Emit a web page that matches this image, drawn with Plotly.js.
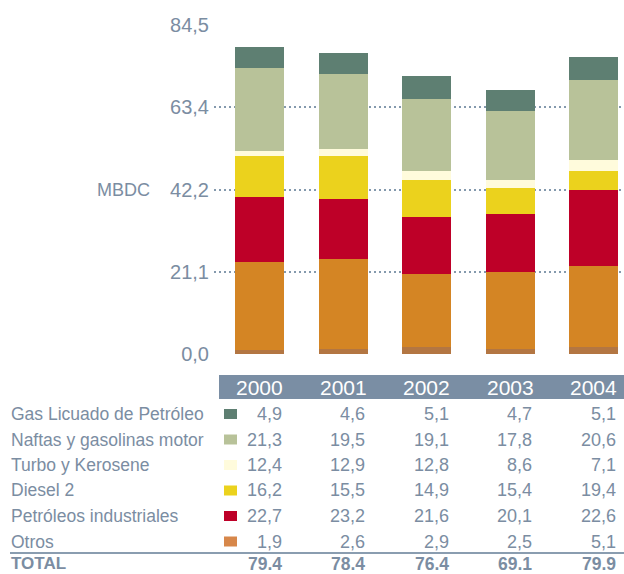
<!DOCTYPE html>
<html>
<head>
<meta charset="utf-8">
<script src="https://cdn.plot.ly/plotly-3.0.1.min.js"></script>
<style>html,body{margin:0;padding:0;background:#fff;}#chart{width:624px;height:574px;}</style>
</head>
<body>
<div id="chart"></div>
<script>
// ---- Data ----
var years = ["2000", "2001", "2002", "2003", "2004"];
var yTicks = [0, 21.1, 42.2, 63.4, 84.5];
var yTickLabels = ["0,0", "21,1", "42,2", "63,4", "84,5"];

// Bar segments as drawn in the picture (bottom to top)
var segBase   = [1.0, 1.3, 1.8, 1.3, 1.8];
var segOrange = [22.6, 23.1, 18.7, 19.8, 20.8];
var segRed    = [16.7, 15.4, 14.7, 14.9, 19.5];
var segYellow = [10.6, 11.1, 9.5, 6.6, 4.9];
var segCream  = [1.2, 1.8, 2.3, 2.1, 2.8];
var segSage   = [21.4, 19.2, 18.5, 17.7, 20.6];
var segGreen  = [5.4, 5.4, 5.9, 5.4, 5.9];

// Table values
var rowNames = ["Gas Licuado de Petróleo", "Naftas y gasolinas motor", "Turbo y Kerosene", "Diesel 2", "Petróleos industriales", "Otros"];
var glp      = [4.9, 4.6, 5.1, 4.7, 5.1];
var naftas   = [21.3, 19.5, 19.1, 17.8, 20.6];
var turbo    = [12.4, 12.9, 12.8, 8.6, 7.1];
var diesel   = [16.2, 15.5, 14.9, 15.4, 19.4];
var petroleos= [22.7, 23.2, 21.6, 20.1, 22.6];
var otros    = [1.9, 2.6, 2.9, 2.5, 5.1];
var totals   = [79.4, 78.4, 76.4, 69.1, 79.9];

// ---- Styling ----
var FONT = "Liberation Sans, Arial, Helvetica, sans-serif";
var TXT = "#7b8da2";
var segColors = ["#b37642", "#d48524", "#be0028", "#ebd21d", "#fffbdc", "#b8c299", "#5e7f72"];
var swatchColors = ["#5e7f72", "#b8c299", "#fffbdc", "#ebd21d", "#be0028", "#d7874a"];
var segs = [segBase, segOrange, segRed, segYellow, segCream, segSage, segGreen];

var xIdx = years.map(function(_, i){ return i; });
var traces = segs.map(function(vals, k){
  return {
    type: "bar", x: xIdx, y: vals, width: 0.587,
    marker: {color: segColors[k], line: {width: 0}},
    showlegend: false, hoverinfo: "y"
  };
});

// plot area geometry (pixels)
var T = 25, H = 329;
function py(p){ return (T + H - p) / H; }   // pixel y -> paper y
var L = 214, W = 410;
function px(p){ return (p - L) / W; }       // pixel x -> paper x

var annotations = [];
var shapes = [];

// MBDC label
annotations.push({xref: "paper", yref: "y", x: px(152), y: 42.2, xanchor: "right", yanchor: "middle",
  text: "MBDC", showarrow: false, font: {family: FONT, size: 18, color: TXT}});

// header band
shapes.push({type: "rect", xref: "paper", yref: "paper", x0: px(219), x1: 1, y0: py(399), y1: py(375),
  fillcolor: "#7a8ea4", line: {width: 0}, layer: "below"});
years.forEach(function(yr, i){
  annotations.push({xref: "x", yref: "paper", x: i, y: py(387.5), xanchor: "center", yanchor: "middle",
    text: yr, showarrow: false, font: {family: FONT, size: 21, color: "#ffffff"}});
});

var rows = [glp, naftas, turbo, diesel, petroleos, otros];
var rowY = [414, 439.5, 465, 490.5, 516, 541.5];
function fmt(v){ return v.toFixed(1).replace(".", ","); }

rows.forEach(function(vals, r){
  annotations.push({xref: "paper", yref: "paper", x: px(9), y: py(rowY[r]), xanchor: "left", yanchor: "middle",
    text: rowNames[r], showarrow: false, font: {family: FONT, size: 17.5, color: TXT}});
  shapes.push({type: "rect", xref: "x", yref: "paper", xsizemode: "pixel", ysizemode: "pixel",
    xanchor: 0, yanchor: py(rowY[r]), x0: -35.5, x1: -22.5, y0: -5, y1: 5,
    fillcolor: swatchColors[r], line: {width: 0}});
  vals.forEach(function(v, i){
    annotations.push({xref: "x", yref: "paper", x: i, xshift: 24, y: py(rowY[r]), xanchor: "right", yanchor: "middle",
      text: fmt(v), showarrow: false, font: {family: FONT, size: 18, color: TXT}});
  });
});

// separator line
shapes.push({type: "line", xref: "paper", yref: "paper", x0: px(10), x1: 1, y0: py(553), y1: py(553),
  line: {color: "#8a9db0", width: 2}});

// total row
var totalY = 563.5;
annotations.push({xref: "paper", yref: "paper", x: px(9), y: py(totalY), xanchor: "left", yanchor: "middle",
  text: "<b>TOTAL</b>", showarrow: false, font: {family: FONT, size: 17, color: TXT}});
totals.forEach(function(v, i){
  annotations.push({xref: "x", yref: "paper", x: i, xshift: 24, y: py(totalY), xanchor: "right", yanchor: "middle",
    text: "<b>" + v.toFixed(1) + "</b>", showarrow: false, font: {family: FONT, size: 17.5, color: TXT}});
});

var layout = {
  width: 624, height: 574,
  margin: {l: L, r: 0, t: T, b: 574 - T - H, pad: 0},
  paper_bgcolor: "#ffffff", plot_bgcolor: "#ffffff",
  barmode: "stack", bargap: 0,
  xaxis: {range: [-0.545, 4.365], showticklabels: false, showgrid: false, zeroline: false,
    showline: false, ticks: "", fixedrange: true},
  yaxis: {range: [0, 84.5], tickmode: "array", tickvals: yTicks, ticktext: yTickLabels,
    showgrid: true, gridcolor: "#8499ad", gridwidth: 2, griddash: "2px,3px",
    zeroline: false, showline: false, ticks: "", ticklabelstandoff: 4,
    tickfont: {family: FONT, size: 20, color: TXT}, fixedrange: true},
  annotations: annotations,
  shapes: shapes,
  showlegend: false
};

Plotly.newPlot("chart", traces, layout, {displayModeBar: false, staticPlot: true});
</script>
</body>
</html>
